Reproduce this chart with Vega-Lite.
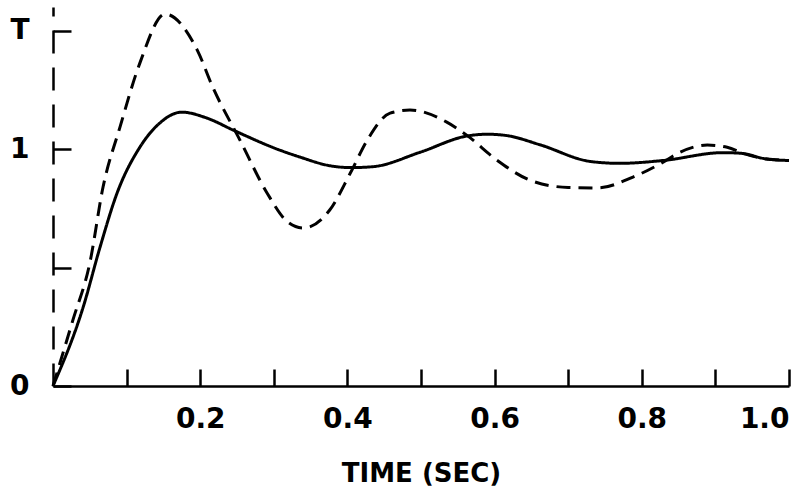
{
  "$schema": "https://vega.github.io/schema/vega-lite/v6.json",
  "width": 736,
  "height": 379,
  "autosize": {"type": "none"},
  "padding": {"left": 53, "top": 7, "right": 21, "bottom": 101},
  "background": "white",
  "config": {
    "view": {"stroke": null},
    "axis": {
      "grid": false,
      "domainColor": "black",
      "tickColor": "black",
      "labelColor": "black",
      "titleColor": "black",
      "labelFont": "DejaVu Sans",
      "titleFont": "DejaVu Sans"
    }
  },
  "data": {
    "values": [
      {"t": 0.0, "v": 0.0, "s": "solid"},
      {"t": 0.041, "v": 0.333, "s": "solid"},
      {"t": 0.064, "v": 0.587, "s": "solid"},
      {"t": 0.087, "v": 0.814, "s": "solid"},
      {"t": 0.118, "v": 1.008, "s": "solid"},
      {"t": 0.145, "v": 1.11, "s": "solid"},
      {"t": 0.175, "v": 1.156, "s": "solid"},
      {"t": 0.21, "v": 1.13, "s": "solid"},
      {"t": 0.245, "v": 1.08, "s": "solid"},
      {"t": 0.308, "v": 0.996, "s": "solid"},
      {"t": 0.336, "v": 0.966, "s": "solid"},
      {"t": 0.376, "v": 0.93, "s": "solid"},
      {"t": 0.405, "v": 0.922, "s": "solid"},
      {"t": 0.435, "v": 0.926, "s": "solid"},
      {"t": 0.499, "v": 0.987, "s": "solid"},
      {"t": 0.562, "v": 1.055, "s": "solid"},
      {"t": 0.59, "v": 1.063, "s": "solid"},
      {"t": 0.617, "v": 1.057, "s": "solid"},
      {"t": 0.662, "v": 1.018, "s": "solid"},
      {"t": 0.73, "v": 0.948, "s": "solid"},
      {"t": 0.77, "v": 0.94, "s": "solid"},
      {"t": 0.829, "v": 0.952, "s": "solid"},
      {"t": 0.91, "v": 0.985, "s": "solid"},
      {"t": 0.933, "v": 0.983, "s": "solid"},
      {"t": 0.97, "v": 0.958, "s": "solid"},
      {"t": 1.0, "v": 0.952, "s": "solid"},
      {"t": 0.0, "v": 0.0, "s": "dashed"},
      {"t": 0.027, "v": 0.278, "s": "dashed"},
      {"t": 0.05, "v": 0.519, "s": "dashed"},
      {"t": 0.068, "v": 0.84, "s": "dashed"},
      {"t": 0.091, "v": 1.093, "s": "dashed"},
      {"t": 0.118, "v": 1.363, "s": "dashed"},
      {"t": 0.152, "v": 1.57, "s": "dashed"},
      {"t": 0.196, "v": 1.418, "s": "dashed"},
      {"t": 0.217, "v": 1.262, "s": "dashed"},
      {"t": 0.254, "v": 1.038, "s": "dashed"},
      {"t": 0.291, "v": 0.814, "s": "dashed"},
      {"t": 0.318, "v": 0.695, "s": "dashed"},
      {"t": 0.34, "v": 0.667, "s": "dashed"},
      {"t": 0.376, "v": 0.743, "s": "dashed"},
      {"t": 0.404, "v": 0.899, "s": "dashed"},
      {"t": 0.427, "v": 1.038, "s": "dashed"},
      {"t": 0.458, "v": 1.152, "s": "dashed"},
      {"t": 0.485, "v": 1.165, "s": "dashed"},
      {"t": 0.535, "v": 1.114, "s": "dashed"},
      {"t": 0.562, "v": 1.059, "s": "dashed"},
      {"t": 0.603, "v": 0.954, "s": "dashed"},
      {"t": 0.648, "v": 0.869, "s": "dashed"},
      {"t": 0.7, "v": 0.838, "s": "dashed"},
      {"t": 0.74, "v": 0.836, "s": "dashed"},
      {"t": 0.788, "v": 0.882, "s": "dashed"},
      {"t": 0.829, "v": 0.945, "s": "dashed"},
      {"t": 0.852, "v": 0.987, "s": "dashed"},
      {"t": 0.889, "v": 1.017, "s": "dashed"},
      {"t": 0.916, "v": 1.008, "s": "dashed"},
      {"t": 0.94, "v": 0.98, "s": "dashed"},
      {"t": 0.97, "v": 0.958, "s": "dashed"},
      {"t": 1.0, "v": 0.952, "s": "dashed"}
    ]
  },
  "mark": {"type": "line", "interpolate": "monotone", "strokeWidth": 3, "color": "black"},
  "encoding": {
    "x": {
      "field": "t",
      "type": "quantitative",
      "scale": {"domain": [0, 1]},
      "axis": {
        "values": [0.1, 0.2, 0.3, 0.4, 0.5, 0.6, 0.7, 0.8, 0.9, 1.0],
        "tickSize": -17,
        "tickWidth": 2.5,
        "domainWidth": 2.5,
        "labelFontSize": 28,
        "labelFontWeight": "bold",
        "labelPadding": 36,
        "labelExpr": "round(datum.value*10)%2==0 ? format(datum.value,'.1f') : ''",
        "title": "TIME (SEC)",
        "titleFontSize": 26,
        "titleFontWeight": "bold",
        "titlePadding": 27
      }
    },
    "y": {
      "field": "v",
      "type": "quantitative",
      "scale": {"domain": [0, 1.6]},
      "axis": {
        "values": [0, 0.5, 1, 1.5],
        "tickSize": -18,
        "tickWidth": 2.5,
        "domainWidth": 2.5,
        "domainDash": [23, 14],
        "labelFontSize": 28,
        "labelFontWeight": "bold",
        "labelPadding": 42,
        "labelExpr": "datum.value==0 ? '0' : datum.value==1 ? '1' : datum.value==1.5 ? 'T' : ''",
        "title": null
      }
    },
    "strokeDash": {
      "field": "s",
      "type": "nominal",
      "scale": {"domain": ["solid", "dashed"], "range": [[1, 0], [14, 8]]},
      "legend": null
    }
  }
}
